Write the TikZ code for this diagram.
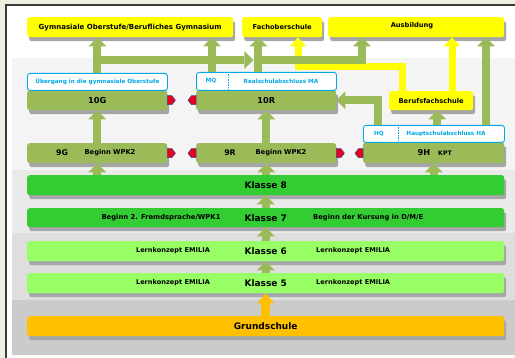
\documentclass[tikz,border=0pt]{standalone}
\usepackage{fontspec}
\setmainfont{DejaVu Sans}
\usetikzlibrary{arrows.meta,shadows,calc}
\definecolor{olv}{HTML}{9BBB59}
\definecolor{ylw}{HTML}{FFFF00}
\definecolor{dgr}{HTML}{33CC33}
\definecolor{lgr}{HTML}{99FF66}
\definecolor{org}{HTML}{FFC000}
\definecolor{blu}{HTML}{00A8E8}
\definecolor{bge}{HTML}{EFEFDF}
\definecolor{frm}{HTML}{3A3A3A}
\definecolor{mrkred}{HTML}{E8001C}
\definecolor{mrkblue}{HTML}{3A4A8A}
\definecolor{bandA}{HTML}{F4F4F4}
\definecolor{bandB}{HTML}{EAEAEA}
\definecolor{bandC}{HTML}{DEDEDE}
\definecolor{bandD}{HTML}{CBCBCB}
\newcommand\myfs[1]{\fontsize{#1}{#1}\selectfont\bfseries}
\begin{document}
\begin{tikzpicture}[x=1pt,y=-1pt,
  box/.style={rectangle, rounded corners=2.5pt, inner sep=0pt, anchor=north west,
    drop shadow={shadow xshift=2pt, shadow yshift=-4pt, fill=black!35, opacity=1}},
  lbl/.style={rectangle, rounded corners=2.5pt, inner sep=0pt, anchor=north west,
    draw=blu, line width=0.9pt, fill=white, text=blu},
  txt/.style={inner sep=0pt},
  bluetxt/.style={inner sep=0pt, text=blu, font=\myfs{5.7}},
  divline/.style={draw=blu, line width=0.8pt, dash pattern=on 1.5pt off 1pt},
  garrow/.style={draw=olv, line width=8pt, line join=miter,
    -{Triangle[width=18pt,length=9pt,line width=0pt]}},
  yarrow/.style={draw=ylw, line width=7pt, line join=miter,
    -{Triangle[width=17pt,length=9pt,line width=0pt]}},
  oarrow/.style={draw=org, line width=9pt, line join=miter,
    -{Triangle[width=17pt,length=10pt,line width=0pt]}},
  mrk/.style={fill=mrkred, draw=mrkblue, line width=0.6pt, line join=round}
]
\useasboundingbox (0,0) rectangle (515,358);
% backgrounds
\fill[bge] (0,0) rectangle (515,358);
\draw[frm, line width=1.6pt, fill=white] (6,5) rectangle (530,375);
\fill[bandA] (12,58) rectangle (515,170);
\fill[bandB] (12,170) rectangle (515,233);
\fill[bandC] (12,233) rectangle (515,300);
\fill[bandD] (12,300) rectangle (515,355);

% top targets
\node[box, fill=ylw, minimum width=206pt, minimum height=20pt, font=\myfs{7}] (gym) at (27,17) {Gymnasiale Oberstufe/Berufliches Gymnasium};
\node[box, fill=ylw, minimum width=80pt, minimum height=20pt, font=\myfs{6.7}] (fos) at (242,17) {Fachoberschule};
\node[box, fill=ylw, minimum width=176pt, minimum height=20pt] (ausb) at (328,17) {};
\node[txt, font=\myfs{6.7}] (tausb) at (412,26) {Ausbildung};

% 10th grade
\node[box, fill=olv, minimum width=140pt, minimum height=20pt, font=\myfs{8.2}] (g10) at (27,90) {10G};
\node[lbl, minimum width=140pt, minimum height=17pt, font=\myfs{5.7}] (ueb) at (27,73) {Übergang in die gymnasiale Oberstufe};
\node[box, fill=olv, minimum width=140pt, minimum height=20pt, font=\myfs{8.2}] (r10) at (196,90) {10R};
\node[lbl, minimum width=140pt, minimum height=18pt] (mq) at (196,72) {};
\draw[divline] ([xshift=32pt]mq.north west) -- ([xshift=32pt]mq.south west);
\node[bluetxt] (tmq) at (211,81) {MQ};
\node[bluetxt] (tma) at (281,81) {Realschulabschluss MA};
\node[box, fill=ylw, minimum width=84pt, minimum height=19pt, font=\myfs{6.7}] (bfs) at (389,91) {Berufsfachschule};

% 9th grade
\node[box, fill=olv, minimum width=140pt, minimum height=20pt] (g9) at (27,143) {};
\node[txt, font=\myfs{7.8}] (t9g) at (62,153) {9G};
\node[txt, font=\myfs{6.7}] (t9gb) at (110,153) {Beginn WPK2};
\node[box, fill=olv, minimum width=140pt, minimum height=20pt] (r9) at (196,143) {};
\node[txt, font=\myfs{7.8}] (t9r) at (230,153) {9R};
\node[txt, font=\myfs{6.7}] (t9rb) at (281,153) {Beginn WPK2};
\node[box, fill=olv, minimum width=141pt, minimum height=21pt] (h9) at (363,142) {};
\node[lbl, minimum width=141pt, minimum height=17pt] (hq) at (363,125) {};
\draw[divline] ([xshift=35pt]hq.north west) -- ([xshift=35pt]hq.south west);
\node[bluetxt] (thq) at (379,133.5) {HQ};
\node[bluetxt] (tha) at (446,133.5) {Hauptschulabschluss HA};
\node[txt, font=\myfs{8.2}] (t9h) at (424,153) {9H};
\node[txt, font=\myfs{6.2}] (tkpt) at (445,153.5) {KPT};

% lower grades
\node[box, fill=dgr, minimum width=477pt, minimum height=20pt, font=\myfs{9}] (k8) at (27,175) {Klasse 8};
\node[box, fill=dgr, minimum width=477pt, minimum height=19pt, font=\myfs{9}] (k7) at (27,208) {Klasse 7};
\node[txt, font=\myfs{6.8}] (t7a) at (161,217.5) {Beginn 2. Fremdsprache/WPK1};
\node[txt, font=\myfs{6.8}, anchor=west] (t7b) at (313,217.5) {Beginn der Kursung in D/M/E};
\node[box, fill=lgr, minimum width=477pt, minimum height=20pt, font=\myfs{9}] (k6) at (27,241) {Klasse 6};
\node[txt, font=\myfs{6.6}] (t6a) at (173,251) {Lernkonzept EMILIA};
\node[txt, font=\myfs{6.6}, anchor=west] (t6b) at (316,251) {Lernkonzept EMILIA};
\node[box, fill=lgr, minimum width=477pt, minimum height=20pt, font=\myfs{9}] (k5) at (27,273) {Klasse 5};
\node[txt, font=\myfs{6.6}] (t5a) at (173,283) {Lernkonzept EMILIA};
\node[txt, font=\myfs{6.6}, anchor=west] (t5b) at (316,283) {Lernkonzept EMILIA};
\node[box, fill=org, minimum width=477pt, minimum height=20pt, font=\myfs{9}] (gs) at (27,316) {Grundschule};

% helper coordinates
\coordinate (xmq) at ([xshift=16pt]mq.north west);
\coordinate (xfos) at ([xshift=-8pt]mq.north);
\coordinate (xaus) at ([xshift=34pt]ausb.south west);
\coordinate (xy1) at ([xshift=13pt]bfs.north west);
\coordinate (xy1t) at ([xshift=56pt]fos.south west);
\coordinate (xy2) at ([xshift=63pt]bfs.north west);
\coordinate (xbfs) at ([xshift=6pt]bfs.south);
\coordinate (xaus2) at ([xshift=-19pt]hq.north east);
\coordinate (xhq) at ([xshift=15pt]hq.north west);

% yellow arrows
\draw[yarrow] (xy1) -- ++(0,-24) -| (xy1t);
\draw[yarrow] (xy2) -- (xy2 |- ausb.south);

% green arrows
\draw[garrow] (ueb.north) -- (ueb.north |- gym.south);
\draw[garrow] ([yshift=13pt]ueb.north) -- ([yshift=12pt, xshift=-5pt]xfos);
\draw[garrow] (xmq) -- (xmq |- gym.south);
\draw[garrow] (xfos) -- (xfos |- fos.south);
\draw[garrow] ([yshift=12pt]xfos) -| (xaus);
\draw[garrow] (xbfs |- hq.north) -- (xbfs);
\draw[garrow] (xaus2) -- (xaus2 |- ausb.south);
\draw[garrow] (xhq) |- (r10.east);
\draw[garrow] (g9.north) -- (g10.south);
\draw[garrow] (r9.north) -- (r10.south);
\draw[garrow] (g9.south |- k8.north) -- (g9.south);
\draw[garrow] (r9.south |- k8.north) -- (r9.south);
\draw[garrow] (h9.south |- k8.north) -- (h9.south);
\draw[garrow] (k7.north) -- (k8.south);
\draw[garrow] (k6.north) -- (k7.south);
\draw[garrow] (k5.north) -- (k6.south);
\draw[oarrow] (gs.north) -- (k5.south);

% red markers
\draw[mrk] (g10.east) ++(0,-4.5) -- ++(4.5,0) -- ++(3.5,4.5) -- ++(-3.5,4.5) -- ++(-4.5,0) -- cycle;
\draw[mrk] (r10.west) ++(0,-4.5) -- ++(-4.5,0) -- ++(-3.5,4.5) -- ++(3.5,4.5) -- ++(4.5,0) -- cycle;
\draw[mrk] (g9.east) ++(0,-4.5) -- ++(4.5,0) -- ++(3.5,4.5) -- ++(-3.5,4.5) -- ++(-4.5,0) -- cycle;
\draw[mrk] (r9.west) ++(0,-4.5) -- ++(-4.5,0) -- ++(-3.5,4.5) -- ++(3.5,4.5) -- ++(4.5,0) -- cycle;
\draw[mrk] (r9.east) ++(0,-4.5) -- ++(4.5,0) -- ++(3.5,4.5) -- ++(-3.5,4.5) -- ++(-4.5,0) -- cycle;
\draw[mrk] ([yshift=-0.5pt]h9.west) ++(0,-4.5) -- ++(-4.5,0) -- ++(-3.5,4.5) -- ++(3.5,4.5) -- ++(4.5,0) -- cycle;
\end{tikzpicture}
\end{document}
